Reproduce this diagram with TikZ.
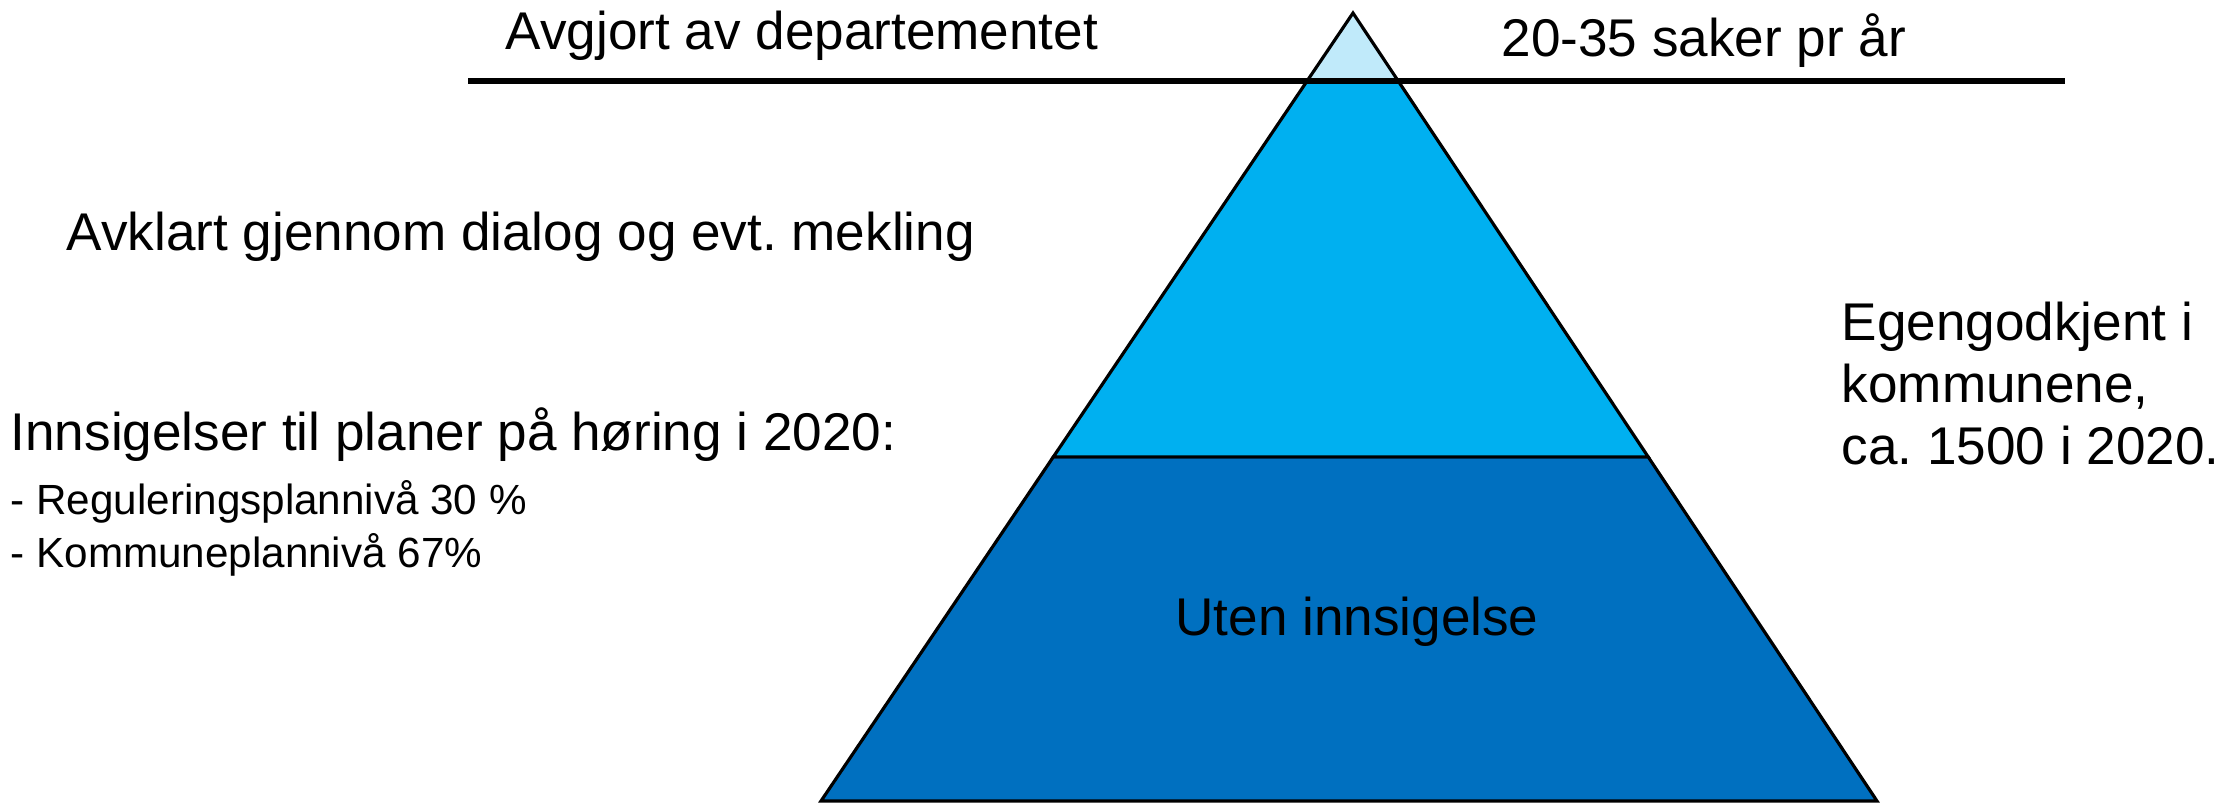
\documentclass[tikz,border=0pt]{standalone}
\usepackage{fontspec}
\setmainfont{Liberation Sans}
\frenchspacing
\usetikzlibrary{positioning, calc}
\definecolor{toplight}{HTML}{C0EAFA}
\definecolor{midblue}{HTML}{00B0F0}
\definecolor{lowblue}{HTML}{0070C0}
\tikzset{
    big/.style={font=\fontsize{15.1}{17.8}\selectfont, inner sep=0pt, anchor=base west}, % main labels
    small/.style={font=\fontsize{12}{15}\selectfont, inner sep=0pt, anchor=base west}, % the two sub points
    layer/.style={draw=black, line width=0.9pt, line join=miter}, % one band of the pyramid
}

\begin{document}
\begin{tikzpicture}[x=0.01cm, y=-0.01cm]
        \useasboundingbox (0,0) rectangle (2238,803);
        % pyramid corners
        \coordinate (T) at (1353,13);
        \coordinate (L) at (821,801);
        \coordinate (R) at (1877,801);
        \coordinate (tl) at ($(T)!0.0861!(L)$);
        \coordinate (tr) at ($(T)!0.0861!(R)$);
        \coordinate (ml) at ($(T)!0.5633!(L)$);
        \coordinate (mr) at ($(T)!0.5633!(R)$);

        \filldraw[layer, fill=lowblue] (ml) -- (L) -- (R) -- (mr) -- cycle;
        \filldraw[layer, fill=midblue] (tl) -- (ml) -- (mr) -- (tr) -- cycle;
        \filldraw[layer, fill=toplight] (T) -- (tl) -- (tr) -- cycle;

        % line under the top
        \coordinate (hl) at (468,81);
        \coordinate (hr) at (2065,81);
        \draw[line width=1.7pt] (hl) -- (hr);

        \node[big] (avg) at (505,50) {Avgjort av departementet};
        \node[big] (saker) at (1501,57) {20-35 saker pr år};
        \node[big] (avk) at (66,250) {Avklart gjennom dialog og evt. mekling};
        \node[big] (ins) at (10,450) {Innsigelser til planer på høring i 2020:};
        \node[small] (reg) at ([yshift=-0.64cm]ins.base west) {- Reguleringsplannivå 30 \%};
        \node[small] (kom) at ([yshift=-0.53cm]reg.base west) {- Kommuneplannivå 67\%};
        \node[big] (ego) at (1841,340) {Egengodkjent i};
        \node[big] (kmn) at ([yshift=-0.62cm]ego.base west) {kommunene,};
        \node[big] (ca) at ([yshift=-0.62cm]kmn.base west) {ca. 1500 i 2020.};
        \node[big, anchor=base] (uten) at (1357,635) {Uten innsigelse};
\end{tikzpicture}
\end{document}
